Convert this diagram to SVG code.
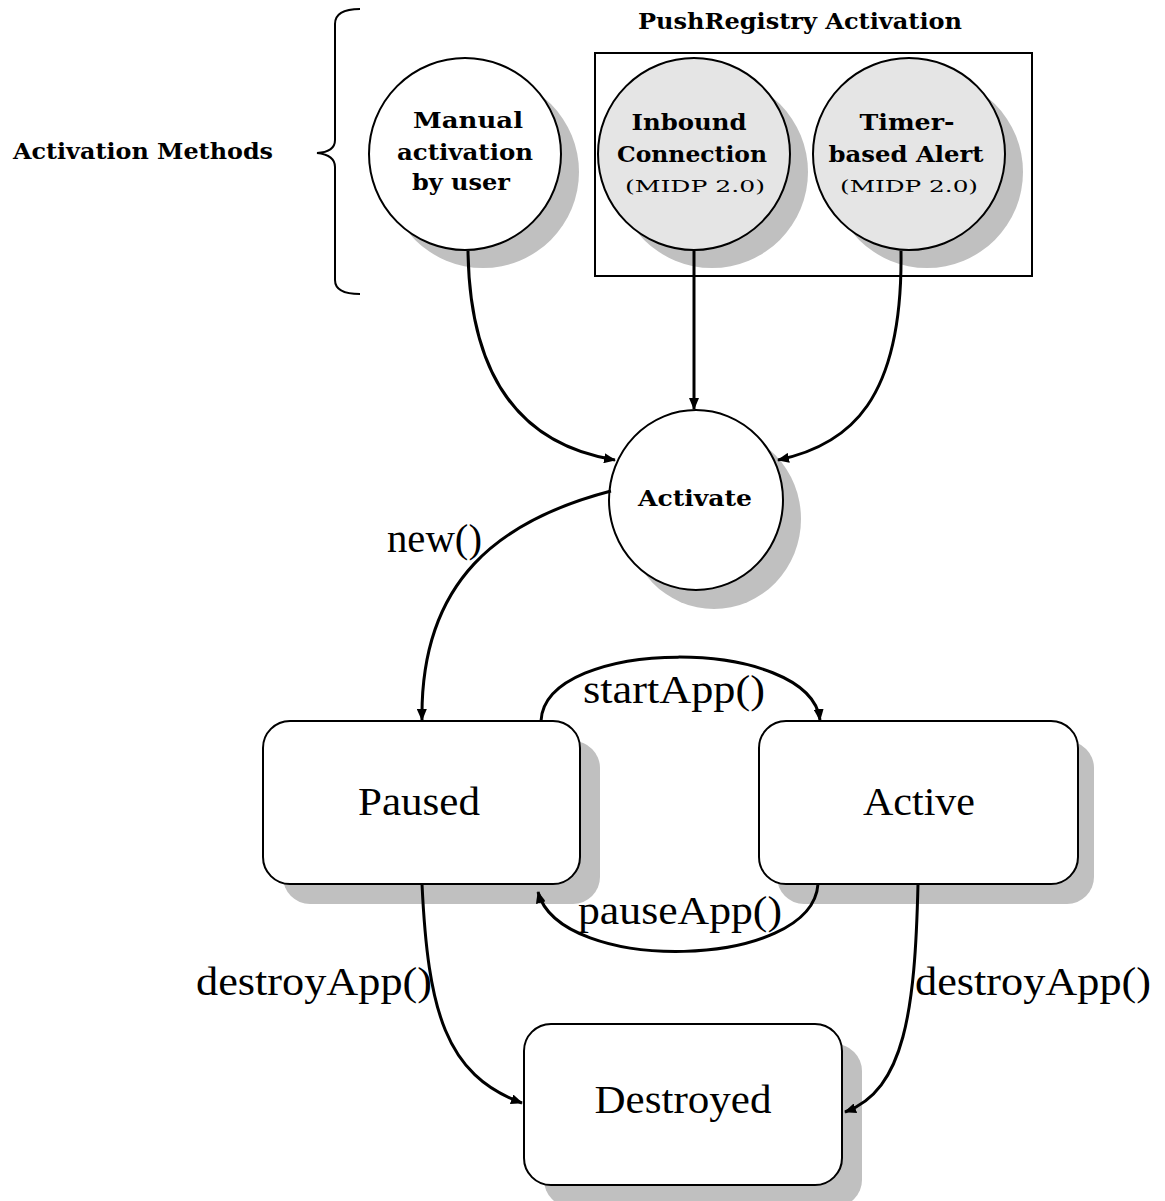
<svg xmlns="http://www.w3.org/2000/svg" width="1165" height="1201" viewBox="0 0 1165 1201">
<style>
.sh{fill:#c0c0c0;stroke:none}
.nd{fill:#fff;stroke:#000;stroke-width:2}
.gr{fill:#e5e5e5;stroke:#000;stroke-width:2}
.b{font-family:"DejaVu Serif","Liberation Serif",serif;font-weight:bold;font-size:22px;fill:#000}
.m{font-family:"DejaVu Serif","Liberation Serif",serif;font-size:16px;fill:#000}
.r{font-family:"Liberation Serif",serif;font-size:40px;fill:#000}
.c{fill:none;stroke:#000;stroke-width:3}
</style>
<defs>
<marker id="ah" viewBox="0 0 12 10" refX="11" refY="5" markerWidth="12" markerHeight="10" markerUnits="userSpaceOnUse" orient="auto">
<path d="M0,0 L12,5 L0,10 z" fill="#000"/>
</marker>
</defs>
<rect width="1165" height="1201" fill="#fff"/>

<g id="label-activation-methods">
<text class="b" x="13" y="159" textLength="260" lengthAdjust="spacingAndGlyphs">Activation Methods</text>
<path d="M360,9 Q335,9 335,24 L335,140 Q335,152 317,153 Q335,155 335,167 L335,280 Q335,294 360,294" fill="none" stroke="#000" stroke-width="2"/>
</g>

<g id="pushregistry-group">
<text class="b" x="800" y="29" text-anchor="middle" textLength="324" lengthAdjust="spacingAndGlyphs">PushRegistry Activation</text>
<rect x="595" y="53" width="437" height="223" fill="none" stroke="#000" stroke-width="2"/>
</g>

<g id="manual">
<circle class="sh" cx="483" cy="172" r="96"/>
<circle class="nd" cx="465" cy="154" r="96"/>
<text class="b" x="468" y="128" text-anchor="middle" textLength="110" lengthAdjust="spacingAndGlyphs">Manual</text>
<text class="b" x="465" y="160" text-anchor="middle" textLength="136" lengthAdjust="spacingAndGlyphs">activation</text>
<text class="b" x="461" y="190" text-anchor="middle" textLength="98" lengthAdjust="spacingAndGlyphs">by user</text>
</g>

<g id="inbound">
<circle class="sh" cx="712" cy="172" r="96"/>
<circle class="gr" cx="694" cy="154" r="96"/>
<text class="b" x="689" y="130" text-anchor="middle" textLength="115" lengthAdjust="spacingAndGlyphs">Inbound</text>
<text class="b" x="692" y="162" text-anchor="middle" textLength="150" lengthAdjust="spacingAndGlyphs">Connection</text>
<text class="m" x="695" y="192" text-anchor="middle" textLength="140" lengthAdjust="spacingAndGlyphs">(MIDP 2.0)</text>
</g>

<g id="timer">
<circle class="sh" cx="927" cy="172" r="96"/>
<circle class="gr" cx="909" cy="154" r="96"/>
<text class="b" x="907" y="130" text-anchor="middle" textLength="95" lengthAdjust="spacingAndGlyphs">Timer-</text>
<text class="b" x="906" y="162" text-anchor="middle" textLength="155" lengthAdjust="spacingAndGlyphs">based Alert</text>
<text class="m" x="909" y="192" text-anchor="middle" textLength="138" lengthAdjust="spacingAndGlyphs">(MIDP 2.0)</text>
</g>

<g id="activate">
<ellipse class="sh" cx="714" cy="519" rx="87" ry="90"/>
<ellipse class="nd" cx="696" cy="500" rx="87" ry="90"/>
<text class="b" x="695" y="506" text-anchor="middle" textLength="114" lengthAdjust="spacingAndGlyphs">Activate</text>
</g>

<g id="paused">
<rect class="sh" x="283" y="741" width="317" height="163" rx="27" ry="27"/>
<rect class="nd" x="263" y="721" width="317" height="163" rx="27" ry="27"/>
<text class="r" x="419" y="815" text-anchor="middle" textLength="122" lengthAdjust="spacingAndGlyphs">Paused</text>
</g>

<g id="active">
<rect class="sh" x="777" y="741" width="317" height="163" rx="27" ry="27"/>
<rect class="nd" x="759" y="721" width="319" height="163" rx="27" ry="27"/>
<text class="r" x="919" y="815" text-anchor="middle" textLength="112" lengthAdjust="spacingAndGlyphs">Active</text>
</g>

<g id="destroyed">
<rect class="sh" x="544" y="1044" width="318" height="163" rx="27" ry="27"/>
<rect class="nd" x="524" y="1024" width="318" height="161" rx="27" ry="27"/>
<text class="r" x="683" y="1113" text-anchor="middle" textLength="177" lengthAdjust="spacingAndGlyphs">Destroyed</text>
</g>

<g id="connectors">
<path class="c" d="M468,251 C470,400 540,448 615,460" marker-end="url(#ah)"/>
<path class="c" d="M694,251 L694,409" marker-end="url(#ah)"/>
<path class="c" d="M901,251 C903,400 850,445 778,460" marker-end="url(#ah)"/>
<path class="c" d="M611,491 C500,520 420,580 422,720" marker-end="url(#ah)"/>
<path class="c" d="M541,721 C545,636 810,636 820,720" marker-end="url(#ah)"/>
<path class="c" d="M818,884 C812,970 560,975 538,892" marker-end="url(#ah)"/>
<path class="c" d="M422,884 C428,1010 445,1075 522,1103" marker-end="url(#ah)"/>
<path class="c" d="M918,884 C915,1010 905,1090 845,1112" marker-end="url(#ah)"/>
<text class="r" x="387" y="552" textLength="95" lengthAdjust="spacingAndGlyphs">new()</text>
<text class="r" x="583" y="703" textLength="182" lengthAdjust="spacingAndGlyphs">startApp()</text>
<text class="r" x="578" y="924" textLength="204" lengthAdjust="spacingAndGlyphs">pauseApp()</text>
<text class="r" x="196" y="995" textLength="236" lengthAdjust="spacingAndGlyphs">destroyApp()</text>
<text class="r" x="915" y="995" textLength="236" lengthAdjust="spacingAndGlyphs">destroyApp()</text>
</g>
</svg>
